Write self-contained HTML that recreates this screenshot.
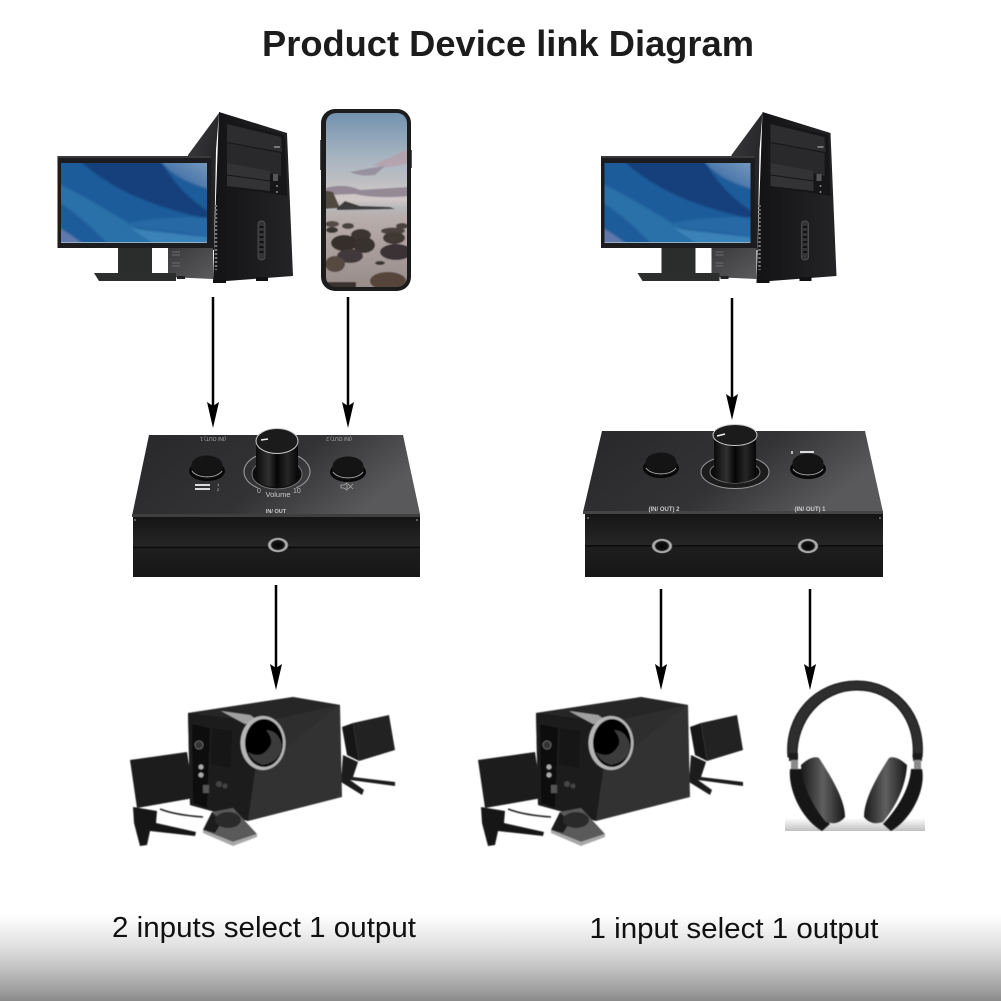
<!DOCTYPE html>
<html><head><meta charset="utf-8"><style>html,body{margin:0;padding:0;background:#fff}svg{display:block}</style></head><body>
<svg xmlns="http://www.w3.org/2000/svg" width="1001" height="1001" viewBox="0 0 1001 1001" font-family="'Liberation Sans',sans-serif">
<defs>
<filter id="b1" x="-5%" y="-5%" width="110%" height="110%"><feGaussianBlur stdDeviation="0.6"/></filter>
<filter id="b2" x="-5%" y="-5%" width="110%" height="110%"><feGaussianBlur stdDeviation="1.1"/></filter>
<linearGradient id="bg" x1="0" y1="0" x2="0" y2="1"><stop offset="0" stop-color="#fff"/><stop offset=".35" stop-color="#e2e2e2"/><stop offset=".62" stop-color="#c2c2c2"/><stop offset=".85" stop-color="#a2a2a2"/><stop offset="1" stop-color="#8a8a8a"/></linearGradient>
<linearGradient id="tr" x1="0" y1="1" x2="1" y2="0"><stop offset="0" stop-color="#265a98"/><stop offset="1" stop-color="#7fa0c2"/></linearGradient>
<linearGradient id="side" x1="0" y1="0" x2="1" y2="1"><stop offset="0" stop-color="#3c3c40"/><stop offset="1" stop-color="#18181a"/></linearGradient>
<linearGradient id="low" x1="0" y1="0" x2="1" y2="1"><stop offset="0" stop-color="#3a3a3c"/><stop offset="1" stop-color="#5a5a5c"/></linearGradient>
<linearGradient id="tfront" x1="0" y1="0" x2="1" y2="0"><stop offset="0" stop-color="#131315"/><stop offset="1" stop-color="#242426"/></linearGradient>
<linearGradient id="sky" x1="0" y1="0" x2="0" y2="1"><stop offset="0" stop-color="#6f90ae"/><stop offset=".25" stop-color="#a5b3c0"/><stop offset=".5" stop-color="#d0c8c6"/><stop offset=".54" stop-color="#b7b9bc"/><stop offset=".6" stop-color="#b8adab"/><stop offset="1" stop-color="#978b88"/></linearGradient>
<linearGradient id="devtop" x1="0" y1="0" x2="1" y2=".35"><stop offset="0" stop-color="#28282a"/><stop offset=".6" stop-color="#333335"/><stop offset="1" stop-color="#59595b"/></linearGradient>
<linearGradient id="devfront" x1="0" y1="0" x2="0" y2="1"><stop offset="0" stop-color="#151515"/><stop offset=".49" stop-color="#262626"/><stop offset=".5" stop-color="#050505"/><stop offset=".53" stop-color="#1e1e1e"/><stop offset="1" stop-color="#161616"/></linearGradient>
<linearGradient id="knob" x1="0" y1="0" x2="1" y2="0"><stop offset="0" stop-color="#0a0a0a"/><stop offset=".3" stop-color="#303030"/><stop offset=".5" stop-color="#060606"/><stop offset=".75" stop-color="#262626"/><stop offset="1" stop-color="#070707"/></linearGradient>
<radialGradient id="jack"><stop offset="0" stop-color="#050505"/><stop offset=".6" stop-color="#141414"/><stop offset=".68" stop-color="#888"/><stop offset=".85" stop-color="#bbb"/><stop offset="1" stop-color="#444"/></radialGradient>
<linearGradient id="sub" x1="0" y1="0" x2="1" y2="1"><stop offset="0" stop-color="#2a2a2a"/><stop offset="1" stop-color="#353535"/></linearGradient>
<linearGradient id="grnd" x1="0" y1="0" x2="0" y2="1"><stop offset="0" stop-color="#fff"/><stop offset="1" stop-color="#c0c0c0"/></linearGradient>
<linearGradient id="cup" x1="0" y1="0" x2="1" y2="0"><stop offset="0" stop-color="#1a1a1a"/><stop offset=".5" stop-color="#5f5f5f"/><stop offset="1" stop-color="#181818"/></linearGradient>
<clipPath id="sc"><rect x="61" y="163" width="146" height="79"/></clipPath>
<clipPath id="pc"><rect x="326" y="113" width="81" height="174" rx="10"/></clipPath>
<g id="pc1">
 <polygon points="188,155 219,113 216,150 214,250 188,250" fill="url(#side)"/>
 <polygon points="168,248 213,248 213,279 168,277" fill="url(#low)"/>
 <g stroke="#6c6c6e" stroke-width="1"><line x1="172" y1="252" x2="180" y2="252"/><line x1="172" y1="255" x2="180" y2="255"/><line x1="172" y1="263" x2="180" y2="263"/><line x1="172" y1="266" x2="180" y2="266"/></g>
 <polygon points="219,112 287,133 293,276 213,282" fill="url(#tfront)"/>
 <polygon points="226,121 285,135 287,196 226,187" fill="#161618"/>
 <polygon points="227,124 281,137 282,152 227,142" fill="#2d2d30"/>
 <polygon points="227,143 281,153 281,176 227,163" fill="#29292c"/>
 <polygon points="227,163 270,171 270,191 227,186" fill="#333336"/>
 <line x1="227" y1="175" x2="270" y2="181" stroke="#151515"/>
 <rect x="273" y="174" width="5" height="7" fill="#555"/><circle cx="277" cy="186" r="1" fill="#888"/><circle cx="277" cy="192" r="1" fill="#888"/>
 <rect x="274" y="146" width="6" height="2" fill="#777"/>
 <rect x="258" y="221" width="7" height="39" rx="3" fill="#343436" stroke="#5a5a5c" stroke-width=".7"/>
 <g fill="#111"><rect x="259.500" y="226" width="4" height="2"/><rect x="259.500" y="231" width="4" height="2"/><rect x="259.500" y="236" width="4" height="2"/><rect x="259.500" y="241" width="4" height="2"/><rect x="259.500" y="246" width="4" height="2"/><rect x="259.500" y="251" width="4" height="2"/></g>
 <line x1="216" y1="205" x2="216" y2="270" stroke="#777" stroke-width="2.500" stroke-dasharray="2 2"/>
 <rect x="213" y="280" width="13" height="3" fill="#111"/><rect x="256" y="277" width="12" height="4" fill="#111"/>
 <rect x="57.500" y="156" width="154" height="92" fill="#1c1c1e"/>
 <rect x="58" y="156" width="153" height="2" fill="#3a3a3c"/>
 <g clip-path="url(#sc)"><g filter="url(#b2)">
  <rect x="55" y="158" width="158" height="90" fill="#1f5c9a"/>
  <path d="M77,158 L160,158 C170,180 190,200 212,214 L212,220 C180,212 120,200 77,158Z" fill="#163f7c"/>
  <path d="M158,158 L212,158 L212,190 C190,184 170,175 158,158Z" fill="url(#tr)"/>
  <path d="M55,182 C90,198 130,225 172,248 L112,248 C92,228 78,214 55,200Z" fill="#2c70a9"/>
  <path d="M55,226 C68,232 78,240 88,248 L55,248Z" fill="#5f79ac"/>
  <path d="M130,228 C155,232 185,234 212,238 L212,248 L160,248Z" fill="#3a82b8"/>
  <path d="M125,224 C150,232 170,228 212,238 L212,218 C180,216 150,218 125,224Z" fill="#2769a5"/>
 </g></g>
 <rect x="61" y="242" width="146" height="1" fill="#8fb0c8"/>
 <rect x="118" y="248" width="34" height="25" fill="#2b2d2c"/>
 <polygon points="94,273 176,273 176,281 99,281" fill="#2c2e2e"/>
 <rect x="177" y="276" width="8" height="3" fill="#222"/>
</g>
<g id="btn"><ellipse cx="0" cy="6" rx="18" ry="10" fill="#070707"/><ellipse cx="0" cy="4" rx="16" ry="10" fill="#111"/><path d="M-15,6 A16,9 0 0 0 15,6" fill="none" stroke="#aaa" stroke-width=".9"/><ellipse cx="0" cy="0" rx="15.500" ry="9.500" fill="#141414"/></g>
<g id="spk"><g filter="url(#b1)">
 <polygon points="130,760 187,752 194,798 137,808" fill="#1d1d1d"/>
 <polygon points="133,807 157,811 156,823 196,832 195,836 150,831 147,845 140,846 134,823" fill="#131313"/>
 <polygon points="342,727 353,723 359,761 347,755" fill="#151515"/>
 <polygon points="353,723 389,715 395,750 359,761" fill="#242424"/>
 <polygon points="343,755 358,762 353,777 395,782 395,786 350,780 364,790 362,795 341,782" fill="#1b1b1b"/>
 <polygon points="188,713 293,697 340,705 342,797 248,821 190,805" fill="url(#sub)"/>
 <polygon points="188,713 293,697 340,705 262,722" fill="#262626"/>
 <polygon points="188,713 262,722 248,821 190,805" fill="#1e1e1e"/>
 <polygon points="192,724 210,728 207,808 193,803" fill="#101010"/>
 <polygon points="212,728 232,731 231,768 211,764" fill="#121212"/>
 <circle cx="199" cy="745" r="4" fill="#333" stroke="#777" stroke-width=".7"/>
 <circle cx="201" cy="767" r="2.500" fill="#aaa"/><circle cx="201" cy="775" r="2.500" fill="#aaa"/>
 <rect x="203" y="785" width="6" height="8" fill="#555"/><circle cx="219" cy="784" r="3" fill="#444"/><circle cx="225" cy="786" r="2.500" fill="#444"/>
 <polygon points="221,711 250,715 262,723 245,724" fill="#a0a0a0"/>
 <ellipse cx="263" cy="743" rx="22.500" ry="27" fill="#b5b5b5"/>
 <ellipse cx="264" cy="743" rx="19" ry="24" fill="#050505"/>
 <path d="M248,752 Q262,760 270,746 Q274,740 266,730 Q278,730 282,745 Q281,762 263,765 Q252,762 248,752Z" fill="#3b3b3b"/>
 <path d="M160,809 Q175,815 203,817" fill="none" stroke="#222" stroke-width="1.500"/>
 <polygon points="203,830 212,812 233,808 257,834 233,842" fill="#5a5a5a"/>
 <polygon points="203,830 212,812 222,822 215,833" fill="#1f1f1f"/>
 <polygon points="203,830 233,842 257,834 257,837 233,846 203,833" fill="#a8a8a8"/>
 <ellipse cx="228" cy="820" rx="13" ry="8" fill="#2b2b2b"/>
</g></g>
</defs>
<rect width="1001" height="1001" fill="#fff"/>
<rect x="0" y="915" width="1001" height="86" fill="url(#bg)"/>
<text x="508" y="56" text-anchor="middle" font-size="36" font-weight="bold" fill="#1c1c1c" textLength="492" lengthAdjust="spacingAndGlyphs">Product Device link Diagram</text>
<use href="#pc1"/>
<use href="#pc1" x="543.500"/>
<rect x="321" y="109" width="90" height="182" rx="14" fill="#1c1c1c"/>
<rect x="320" y="140" width="1" height="30" fill="#555"/><rect x="411" y="150" width="1" height="18" fill="#555"/>
<g clip-path="url(#pc)"><g filter="url(#b1)">
 <rect x="322" y="110" width="88" height="180" fill="url(#sky)"/>
 <path d="M372,165 Q390,158 410,148 L410,162 Q392,170 372,165Z" fill="#b79ca6" opacity=".7"/>
 <path d="M350,172 Q370,168 385,166 L375,175 Q360,177 350,172Z" fill="#8f8797" opacity=".8"/>
 <path d="M326,188 Q345,183 360,190 L410,187 L410,196 Q375,199 355,194 L326,195Z" fill="#8b7f8c" opacity=".85"/>
 <path d="M322,190 L333,192 L340,208 L322,209Z" fill="#4f4a40"/>
 <path d="M337,208 L345,201 L360,206 L390,207 L395,209 L337,210Z" fill="#3d3a3a"/>
 <ellipse cx="332" cy="224" rx="7" ry="3" fill="#554a44"/><ellipse cx="332" cy="230" rx="6" ry="3" fill="#3a3533"/><ellipse cx="348" cy="226" rx="6" ry="3" fill="#4a4340"/>
 <ellipse cx="393" cy="231" rx="12" ry="3.500" fill="#4b4340"/><ellipse cx="402" cy="226" rx="6" ry="3" fill="#4b4340"/>
 <ellipse cx="361" cy="235" rx="10" ry="6" fill="#3d3632"/><ellipse cx="394" cy="238" rx="11" ry="6" fill="#403733"/>
 <ellipse cx="344" cy="243" rx="13" ry="8" fill="#352f2c"/><ellipse cx="364" cy="245" rx="11" ry="8" fill="#37302d"/>
 <ellipse cx="350" cy="256" rx="13" ry="7" fill="#40383a"/><ellipse cx="396" cy="252" rx="16" ry="8" fill="#3a3334"/>
 <ellipse cx="335" cy="264" rx="10" ry="8" fill="#57493f"/><ellipse cx="380" cy="263" rx="5" ry="2" fill="#3c3532"/>
 <ellipse cx="388" cy="281" rx="18" ry="9" fill="#54453a"/><rect x="322" y="282" width="34" height="8" fill="#3a332f"/>
</g></g>
<g stroke="#000" stroke-width="2.500">
 <line x1="213" y1="297" x2="213" y2="410"/><line x1="348" y1="297" x2="348" y2="410"/>
 <line x1="732" y1="298" x2="732" y2="402"/><line x1="276" y1="585" x2="276" y2="672"/>
 <line x1="661" y1="589" x2="661" y2="672"/><line x1="810" y1="589" x2="810" y2="672"/>
</g>
<g fill="#000">
 <path d="M207,402 L213,406 L219,402 L213,428Z"/><path d="M342,402 L348,406 L354,402 L348,428Z"/>
 <path d="M726,394 L732,398 L738,394 L732,420Z"/><path d="M270,664 L276,668 L282,664 L276,690Z"/>
 <path d="M655,664 L661,668 L667,664 L661,690Z"/><path d="M804,664 L810,668 L816,664 L810,690Z"/>
</g>
<!-- left device -->
<polygon points="149,435 403,435 420,514 132,516" fill="url(#devtop)"/>
<rect x="132" y="514" width="288" height="3" fill="#3f3f3f"/>
<rect x="133" y="517" width="287" height="60" fill="url(#devfront)"/>
<circle cx="135" cy="520" r="1" fill="#777"/><circle cx="417" cy="520" r="1" fill="#777"/>
<text x="213" y="441" text-anchor="middle" font-size="5" fill="#aaa" transform="rotate(180 213 439)">(IN/ OUT) 1</text>
<text x="339" y="441" text-anchor="middle" font-size="5" fill="#aaa" transform="rotate(180 339 439)">(IN/ OUT) 2</text>
<use href="#btn" x="207" y="465"/><use href="#btn" x="348" y="466"/>
<rect x="195" y="484" width="15" height="2" fill="#ddd"/><rect x="195" y="488" width="15" height="2" fill="#ddd"/>
<text x="217" y="486" font-size="4" fill="#ccc">1</text><text x="217" y="491" font-size="4" fill="#ccc">2</text>
<path d="M341,485 h3 l3,-2 v7 l-3,-2 h-3z M348,484 l5,5 M353,484 l-5,5" fill="none" stroke="#aaa" stroke-width=".8"/>
<path d="M258,488 A33,20 0 1 1 296,488" fill="none" stroke="#999" stroke-width="1.100"/>
<ellipse cx="277" cy="474" rx="25" ry="15" fill="#0c0c0c" stroke="#777" stroke-width="1"/>
<rect x="256" y="441" width="42" height="37" fill="url(#knob)"/>
<ellipse cx="277" cy="478" rx="21" ry="9" fill="url(#knob)"/>
<ellipse cx="277" cy="441" rx="21" ry="12.500" fill="#1b1b1b" stroke="#ccc" stroke-width="1"/>
<line x1="261" y1="440" x2="268" y2="439" stroke="#eee" stroke-width="1.500"/>
<text x="257" y="493" font-size="7" fill="#bbb">0</text><text x="293" y="493" font-size="7" fill="#bbb">10</text>
<text x="278" y="497" text-anchor="middle" font-size="7.500" fill="#ccc">Volume</text>
<text x="276" y="513" text-anchor="middle" font-size="5.500" font-weight="bold" fill="#ccc">IN/ OUT</text>
<ellipse cx="278" cy="545" rx="10.500" ry="7.500" fill="url(#jack)"/>
<!-- right device -->
<polygon points="602,431 865,431 883,512 583,512" fill="url(#devtop)"/>
<rect x="583" y="511" width="300" height="3" fill="#444"/>
<rect x="585" y="514" width="298" height="63" fill="url(#devfront)"/>
<circle cx="588" cy="518" r="1" fill="#777"/><circle cx="880" cy="518" r="1" fill="#777"/>
<use href="#btn" x="661" y="462"/><use href="#btn" x="808" y="463"/>
<rect x="800" y="451" width="14" height="2" fill="#ddd"/><rect x="791" y="451" width="2" height="3" fill="#bbb"/>
<ellipse cx="735" cy="472" rx="34" ry="16.500" fill="#1c1c1c" stroke="#9a9a9a" stroke-width="1"/>
<ellipse cx="735" cy="472" rx="25" ry="11" fill="#0c0c0c" stroke="#777" stroke-width="1"/>
<rect x="714" y="435" width="42" height="38" fill="url(#knob)"/>
<ellipse cx="735" cy="474" rx="21" ry="9" fill="url(#knob)"/>
<ellipse cx="735" cy="435" rx="22" ry="10.500" fill="#1b1b1b" stroke="#ccc" stroke-width="1"/>
<line x1="717" y1="436" x2="725" y2="434" stroke="#eee" stroke-width="1.500"/>
<text x="664" y="511" text-anchor="middle" font-size="6" font-weight="bold" fill="#ccc">(IN/ OUT) 2</text>
<text x="810" y="511" text-anchor="middle" font-size="6" font-weight="bold" fill="#ccc">(IN/ OUT) 1</text>
<ellipse cx="662" cy="546" rx="10.500" ry="7.500" fill="url(#jack)"/><ellipse cx="808" cy="546" rx="10.500" ry="7.500" fill="url(#jack)"/>
<!-- speakers -->
<use href="#spk"/><use href="#spk" x="348"/>
<!-- headphones -->
<rect x="785" y="818" width="140" height="13" fill="url(#grnd)"/>
<g filter="url(#b1)">
<path d="M788,757 C784,715 815,681 857,681 C897,681 926,715 922,757 L913,757 C916,720 893,690 857,690 C822,690 796,720 797,757Z" fill="#2e2e2e" stroke="#111" stroke-width="1"/>
<rect x="789" y="753" width="9" height="8" fill="#1d1d1d"/><rect x="913" y="753" width="9" height="8" fill="#1d1d1d"/>
<rect x="791" y="760" width="7" height="10" fill="#8a8a8a"/><rect x="914" y="760" width="7" height="10" fill="#8a8a8a"/>
<path d="M790,769 C788,788 800,818 822,831 L830,824 C812,805 803,785 802,769Z" fill="#171717"/>
<path d="M922,769 C926,788 913,818 891,831 L883,824 C901,805 910,785 911,769Z" fill="#171717"/>
<path d="M801,765 Q812,755 819,758 C832,778 845,800 845,817 Q838,826 826,822 C812,805 802,785 801,765Z" fill="url(#cup)"/>
<path d="M907,765 Q896,755 889,758 C876,778 864,800 864,817 Q871,826 883,822 C897,805 906,785 907,765Z" fill="url(#cup)"/>
</g>
<text x="264" y="937" text-anchor="middle" font-size="29" fill="#111" textLength="304" lengthAdjust="spacingAndGlyphs">2 inputs select 1 output</text>
<text x="734" y="938" text-anchor="middle" font-size="29" fill="#111" textLength="289" lengthAdjust="spacingAndGlyphs">1 input select 1 output</text>
</svg>
</body></html>
